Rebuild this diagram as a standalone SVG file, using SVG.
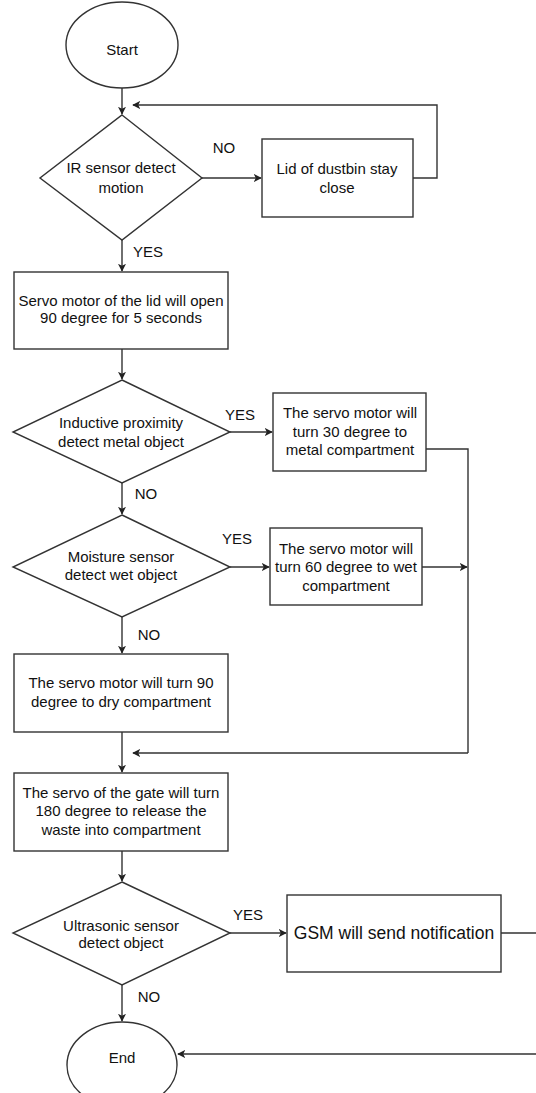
<svg xmlns="http://www.w3.org/2000/svg" width="536" height="1093" viewBox="0 0 536 1093">
<style>
.shape{fill:#fff;stroke:#333;stroke-width:1.4}
.edge{fill:none;stroke:#333;stroke-width:1.4}
.arr{marker-end:url(#ah)}
text{font-family:"Liberation Sans",Arial,sans-serif;font-size:15px;fill:#111;text-anchor:middle}
.big{font-size:17.5px}
</style>
<defs>
<marker id="ah" viewBox="0 0 10 10" refX="9" refY="5" markerWidth="8" markerHeight="8" markerUnits="userSpaceOnUse" orient="auto">
<path d="M0 0 L10 5 L0 10 L2.5 5 Z" fill="#222"/>
</marker>
</defs>
<rect width="536" height="1093" fill="#fff"/>
<g id="connectors">
<path class="edge arr" d="M122 88 V114"/>
<path class="edge arr" d="M202 178 H261"/>
<path class="edge arr" d="M413 178 H437 V105 H133"/>
<path class="edge arr" d="M122 240 V271"/>
<path class="edge arr" d="M122 349 V379"/>
<path class="edge arr" d="M230 432 H272"/>
<path class="edge" d="M426 449 H468 V753"/>
<path class="edge arr" d="M122 483 V514"/>
<path class="edge arr" d="M230 567 H269"/>
<path class="edge arr" d="M422 567 H467"/>
<path class="edge arr" d="M122 617 V653"/>
<path class="edge arr" d="M468 753 H133"/>
<path class="edge arr" d="M122 732 V772"/>
<path class="edge arr" d="M122 851 V881"/>
<path class="edge arr" d="M230 933 H286"/>
<path class="edge arr" d="M501 933 H560 V1054 H178"/>
<path class="edge arr" d="M122 985 V1021"/>
<text x="224" y="153">NO</text>
<text x="148" y="257">YES</text>
<text x="240" y="420">YES</text>
<text x="146" y="499">NO</text>
<text x="237" y="544">YES</text>
<text x="149" y="640">NO</text>
<text x="248" y="920">YES</text>
<text x="149" y="1002">NO</text>
</g>
<g id="start">
<ellipse class="shape" cx="122" cy="45" rx="56" ry="43"/>
<text x="122" y="55">Start</text>
</g>
<g id="ir">
<polygon class="shape" points="122,115 202,178 122,240 40,178"/>
<text x="121" y="173">IR sensor detect</text>
<text x="121" y="193">motion</text>
</g>
<g id="lid">
<rect class="shape" x="262" y="139" width="151" height="78"/>
<text x="337" y="174">Lid of dustbin stay</text>
<text x="337" y="193">close</text>
</g>
<g id="servo">
<rect class="shape" x="14" y="272" width="214" height="77"/>
<text x="121" y="306">Servo motor of the lid will open</text>
<text x="121" y="323">90 degree for 5 seconds</text>
</g>
<g id="inductive">
<polygon class="shape" points="122,380 230,432 122,483 13,432"/>
<text x="121" y="428">Inductive proximity</text>
<text x="121" y="447">detect metal object</text>
</g>
<g id="metal">
<rect class="shape" x="273" y="393" width="153" height="78"/>
<text x="350" y="418">The servo motor will</text>
<text x="350" y="437">turn 30 degree to</text>
<text x="350" y="455">metal compartment</text>
</g>
<g id="moisture">
<polygon class="shape" points="122,515 230,567 122,617 13,567"/>
<text x="121" y="562">Moisture sensor</text>
<text x="121" y="580">detect wet object</text>
</g>
<g id="wet">
<rect class="shape" x="270" y="528" width="152" height="77"/>
<text x="346" y="554">The servo motor will</text>
<text x="346" y="572">turn 60 degree to wet</text>
<text x="346" y="591">compartment</text>
</g>
<g id="dry">
<rect class="shape" x="14" y="654" width="214" height="78"/>
<text x="121" y="688">The servo motor will turn 90</text>
<text x="121" y="707">degree to dry compartment</text>
</g>
<g id="gate">
<rect class="shape" x="14" y="773" width="214" height="78"/>
<text x="121" y="798">The servo of the gate will turn</text>
<text x="121" y="816">180 degree to release the</text>
<text x="121" y="835">waste into compartment</text>
</g>
<g id="ultrasonic">
<polygon class="shape" points="122,882 230,933 122,985 13,933"/>
<text x="121" y="931">Ultrasonic sensor</text>
<text x="121" y="948">detect object</text>
</g>
<g id="gsm">
<rect class="shape" x="287" y="895" width="214" height="77"/>
<text class="big" x="394" y="939">GSM will send notification</text>
</g>
<g id="end">
<ellipse class="shape" cx="122" cy="1065" rx="55" ry="43"/>
<text x="122" y="1063">End</text>
</g>
</svg>
